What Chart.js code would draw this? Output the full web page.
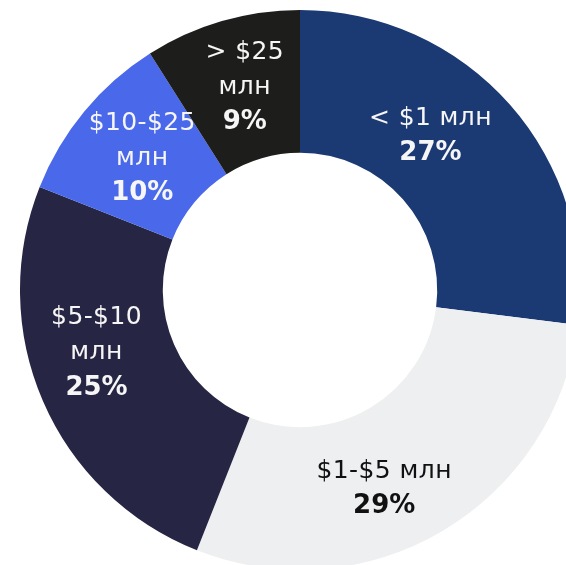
<!DOCTYPE html>
<html>
<head>
<meta charset="utf-8">
<script src="https://cdn.jsdelivr.net/npm/chart.js@4"></script>
<style>
  html, body { margin: 0; padding: 0; background: #ffffff; overflow: hidden; }
  #wrap { position: absolute; left: 0; top: 0; width: 600px; height: 580px; }
</style>
</head>
<body>
<div id="wrap"><canvas id="chart" width="600" height="580"></canvas></div>
<script>
// Deal size buckets and their share of deals, %
const categories = ['< $1 млн', '$1-$5 млн', '$5-$10 млн', '$10-$25 млн', '> $25 млн'];
const shares = [27, 29, 25, 10, 9];
// Label lines drawn inside each segment
const labelLines = [
  ['< $1 млн'],
  ['$1-$5 млн'],
  ['$5-$10', 'млн'],
  ['$10-$25', 'млн'],
  ['> $25', 'млн']
];

const sliceColors = ['#1b3a73', '#eeeff1', '#262644', '#4a68ea', '#1d1d1b'];
const textColors = ['#f6f6f6', '#111111', '#f6f6f6', '#f6f6f6', '#f6f6f6'];
// small nudges of each label block from the arc centre, px
const labelNudge = [[-26, -16], [-22, 19], [-12, -20], [3, 1], [3, -2]];

const FONT = '"DejaVu Sans", sans-serif';

const sliceLabels = {
  id: 'sliceLabels',
  afterDatasetsDraw(chart) {
    const ctx = chart.ctx;
    const meta = chart.getDatasetMeta(0);
    const lineH = 35;
    meta.data.forEach((arc, i) => {
      const p = arc.getCenterPoint();
      const lines = labelLines[i];
      const total = lines.length + 1;
      const cx = p.x + labelNudge[i][0];
      const cy = p.y + labelNudge[i][1];
      const y0 = cy - (total - 1) * lineH / 2;
      ctx.save();
      ctx.textAlign = 'center';
      ctx.textBaseline = 'middle';
      ctx.fillStyle = textColors[i];
      ctx.font = 'normal 25px ' + FONT;
      ctx.letterSpacing = '0.4px';
      lines.forEach((t, k) => ctx.fillText(t, cx, y0 + k * lineH));
      ctx.letterSpacing = '0px';
      ctx.font = 'bold 26px ' + FONT;
      ctx.fillText(shares[i] + '%', cx, y0 + lines.length * lineH);
      ctx.restore();
    });
  }
};

new Chart(document.getElementById('chart'), {
  type: 'doughnut',
  data: {
    labels: categories,
    datasets: [{
      data: shares,
      backgroundColor: sliceColors,
      borderWidth: 0
    }]
  },
  options: {
    responsive: false,
    animation: false,
    cutout: '49%',
    layout: { padding: { left: 20, right: 20, top: 10, bottom: 10 } },
    plugins: {
      legend: { display: false },
      tooltip: { enabled: false }
    }
  },
  plugins: [sliceLabels]
});
</script>
</body>
</html>
